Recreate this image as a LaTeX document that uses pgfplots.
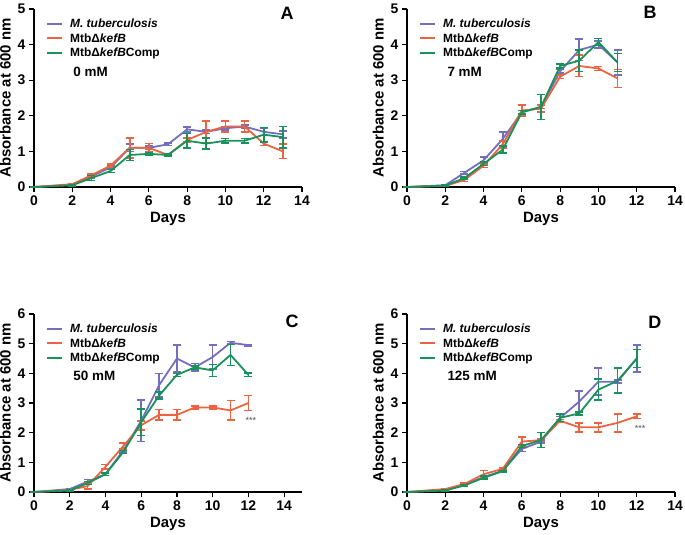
\documentclass[border=0pt]{standalone}
\usepackage{fontspec}
\setmainfont{Liberation Sans}
\usepackage{pgfplots}
\usepackage{pgfplotstable}
\pgfplotsset{compat=1.18}
\definecolor{cP}{RGB}{115,110,190}
\definecolor{cO}{RGB}{235,100,65}
\definecolor{cG}{RGB}{25,145,90}

\pgfplotstableread{
x p pe o oe g ge
0 0 0.01 0 0.01 0 0.01
2 0.06 0.02 0.08 0.02 0.05 0.02
3 0.3 0.04 0.33 0.04 0.25 0.07
4 0.55 0.05 0.6 0.04 0.45 0.04
5 1.1 0.1 1.1 0.28 0.9 0.15
6 1.1 0.05 1.1 0.12 0.93 0.04
7 1.2 0.03 0.9 0.03 0.9 0.03
8 1.62 0.07 1.32 0.05 1.3 0.2
9 1.55 0.05 1.55 0.3 1.22 0.15
10 1.65 0.05 1.7 0.15 1.3 0.06
11 1.7 0.05 1.7 0.15 1.3 0.06
12 1.55 0.1 1.22 0.05 1.47 0.2
13 1.48 0.1 1.0 0.2 1.4 0.3
}\tabA
\pgfplotstableread{
x p pe o oe g ge
0 0 0.01 0 0.01 0 0.01
2 0.05 0.02 0.03 0.02 0.04 0.02
3 0.4 0.03 0.2 0.04 0.25 0.03
4 0.75 0.1 0.6 0.05 0.65 0.05
5 1.35 0.2 1.2 0.1 1.05 0.1
6 2.1 0.05 2.15 0.15 2.1 0.05
7 2.25 0.05 2.2 0.1 2.25 0.35
8 3.25 0.05 3.1 0.05 3.4 0.05
9 3.85 0.3 3.4 0.3 3.55 0.3
10 4.0 0.1 3.33 0.06 4.07 0.1
11 3.5 0.35 3.05 0.25 3.5 0.25
}\tabB
\pgfplotstableread{
x p pe o oe g ge
0 0 0.01 0 0.01 0 0.01
2 0.1 0.02 0.07 0.02 0.05 0.02
3 0.35 0.07 0.2 0.1 0.3 0.05
4 0.6 0.04 0.85 0.08 0.6 0.04
5 1.4 0.05 1.55 0.1 1.35 0.05
6 2.4 0.7 2.25 0.15 2.35 0.45
7 3.6 0.4 2.6 0.18 3.25 0.12
8 4.5 0.45 2.6 0.18 3.95 0.05
9 4.2 0.13 2.85 0.05 4.2 0.05
10 4.55 0.4 2.85 0.05 4.1 0.2
11 5.03 0.05 2.75 0.33 4.62 0.35
12 4.95 0.02 3.0 0.25 3.95 0.06
}\tabC
\pgfplotstableread{
x p pe o oe g ge
0 0 0.01 0 0.01 0 0.01
2 0.07 0.02 0.1 0.02 0.05 0.02
3 0.25 0.03 0.27 0.03 0.22 0.03
4 0.5 0.05 0.6 0.12 0.48 0.05
5 0.72 0.03 0.78 0.03 0.7 0.03
6 1.45 0.08 1.7 0.15 1.55 0.05
7 1.7 0.05 1.75 0.05 1.75 0.25
8 2.5 0.05 2.4 0.05 2.5 0.12
9 3.05 0.35 2.18 0.15 2.65 0.05
10 3.72 0.45 2.18 0.15 3.45 0.35
11 3.72 0.05 2.33 0.3 3.75 0.42
12 4.5 0.45 2.55 0.07 4.5 0.3
}\tabD

\newcommand{\legfont}{\fontsize{12}{13}\selectfont\bfseries}
\pgfplotsset{
 panel/.style={
  width=268bp, height=178bp, scale only axis, anchor=south west,
  axis x line*=bottom, axis y line*=left,
  axis line style={-, line width=1.2pt},
  xmin=0, xmax=14, xtick={0,2,...,14}, ymin=0,
  tick align=outside, major tick length=5bp,
  every tick/.style={line width=1.2pt, black},
  tick label style={font=\fontsize{14}{14}\selectfont\bfseries},
  /pgf/number format/assume math mode=true,
  xlabel={Days}, ylabel={Absorbance at 600 nm},
  label style={font=\fontsize{15}{15}\selectfont\bfseries},
  clip=false,
  legend style={at={(0.045,0.955)}, anchor=north west, draw=none, fill=none,
    inner sep=0pt, row sep=0pt, font=\legfont,
    nodes={font=\legfont}},
  legend cell align=left,
  legend image code/.code={\draw[#1, line width=2pt] (0bp,0bp) -- (15bp,0bp);
    \path (20bp,0bp);},
 },
 ser/.style={line width=1.8pt, mark=none,
  error bars/.cd, y dir=both, y explicit,
  error bar style={line width=1.6pt, solid},
  error mark options={rotate=90, mark size=4pt, line width=1.6pt},
  /pgfplots/.cd},
}
\newcommand{\series}[1]{%
 \addplot[color=cP, ser] table[x=x, y=p, y error=pe] {#1};
 \addplot[color=cO, ser] table[x=x, y=o, y error=oe] {#1};
 \addplot[color=cG, ser] table[x=x, y=g, y error=ge] {#1};
 \legend{\textit{M. tuberculosis}, MtbΔ\textit{kefB}, MtbΔ\textit{kefB}Comp}
}

\begin{document}
\begin{tikzpicture}
\path[use as bounding box] (0,0) rectangle (685bp,-535bp);

\begin{axis}[panel, at={(34bp,-187bp)}, ymax=5, ytick={0,...,5}]
\series{\tabA}
\node[anchor=west, font=\fontsize{13.5}{14}\selectfont\bfseries] at (rel axis cs:0.134,0.646) {0 mM};
\node[font=\fontsize{18}{18}\selectfont\bfseries] at (rel axis cs:0.944,0.975) {A};
\end{axis}

\begin{axis}[panel, at={(407bp,-187bp)}, ymax=5, ytick={0,...,5}]
\series{\tabB}
\node[anchor=west, font=\fontsize{13.5}{14}\selectfont\bfseries] at (rel axis cs:0.138,0.646) {7 mM};
\node[font=\fontsize{18}{18}\selectfont\bfseries] at (rel axis cs:0.907,0.98) {B};
\end{axis}

\begin{axis}[panel, at={(34bp,-492bp)}, xmax=15, ymax=6, ytick={0,...,6}]
\series{\tabC}
\node[anchor=west, font=\fontsize{13.5}{14}\selectfont\bfseries] at (rel axis cs:0.134,0.652) {50 mM};
\node[font=\fontsize{18}{18}\selectfont\bfseries] at (rel axis cs:0.963,0.96) {C};
\node[anchor=west, font=\fontsize{9}{9}\selectfont, text=black!70] at (axis cs:11.65,2.42) {***};
\end{axis}

\begin{axis}[panel, at={(407bp,-492bp)}, ymax=6, ytick={0,...,6}]
\series{\tabD}
\node[anchor=west, font=\fontsize{13.5}{14}\selectfont\bfseries] at (rel axis cs:0.138,0.652) {125 mM};
\node[font=\fontsize{18}{18}\selectfont\bfseries] at (rel axis cs:0.925,0.955) {D};
\node[anchor=west, font=\fontsize{9}{9}\selectfont, text=black!70] at (axis cs:11.72,2.14) {***};
\end{axis}
\end{tikzpicture}
\end{document}
